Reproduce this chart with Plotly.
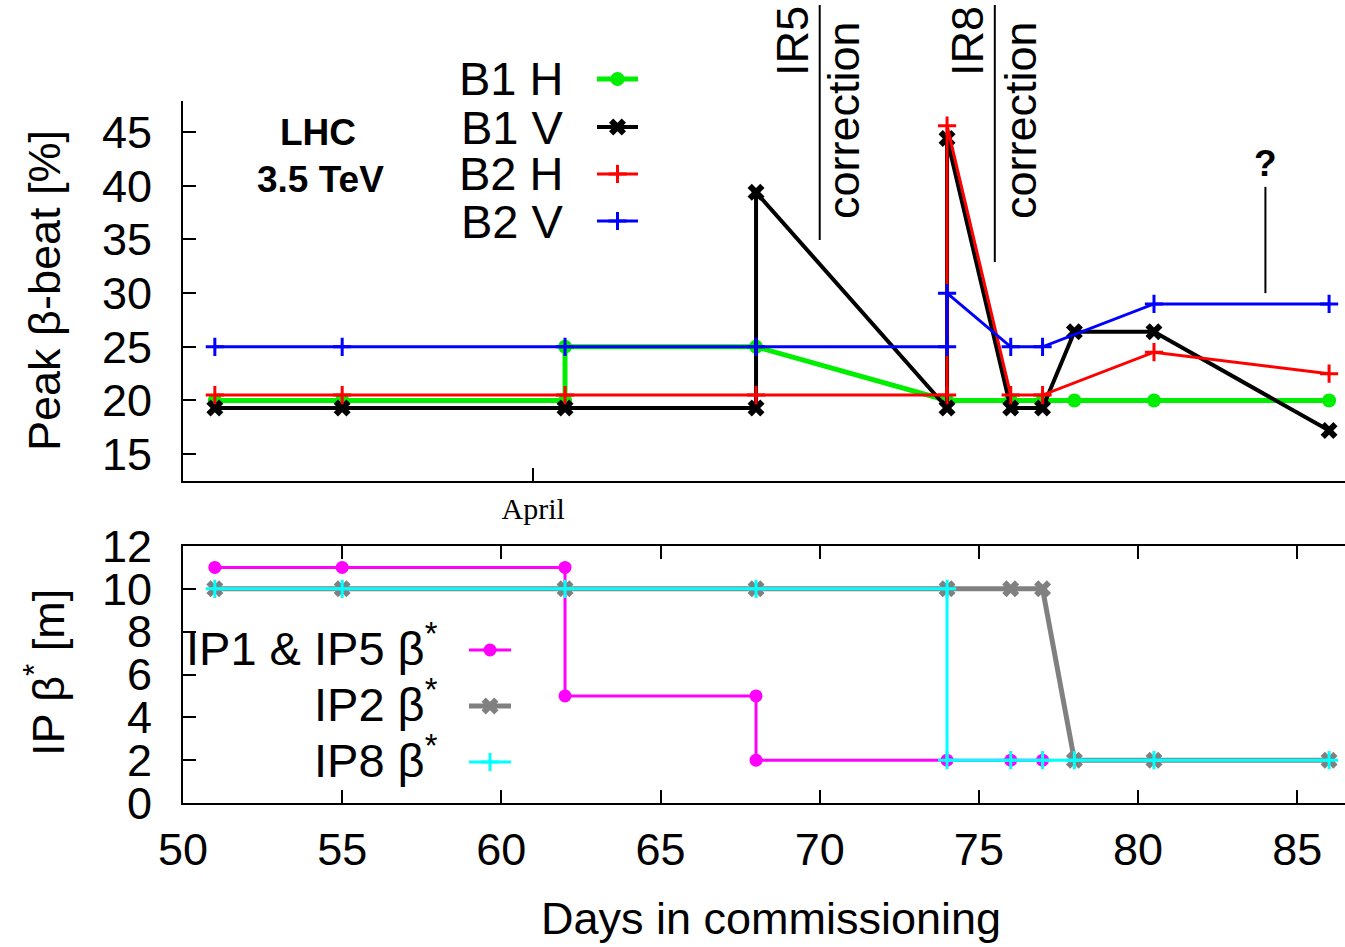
import plotly.graph_objects as go

W, H = 1345, 947

# ---------------- data ----------------
days_b1h = [51, 55, 62, 62, 68, 74, 76, 77, 78, 80.5, 86]
b1h = [20, 20, 20, 25, 25, 20, 20, 20, 20, 20, 20]
days_b1v = [51, 55, 62, 68, 68, 74, 74, 76, 77, 78, 80.5, 86]
b1v = [19.3, 19.3, 19.3, 19.3, 39.4, 19.3, 44.4, 19.3, 19.3, 26.4, 26.4, 17.2]
days_b2h = [51, 55, 62, 68, 74, 74, 76, 77, 80.5, 86]
b2h = [20.5, 20.5, 20.5, 20.5, 20.5, 45.6, 20.5, 20.5, 24.5, 22.5]
days_b2v = [51, 55, 62, 68, 74, 74, 76, 77, 80.5, 86]
b2v = [25, 25, 25, 25, 25, 30, 25, 25, 29, 29]

days_ip15 = [51, 55, 62, 62, 68, 68, 74, 76, 77]
ip15 = [11, 11, 11, 5, 5, 2, 2, 2, 2]
days_ip2 = [51, 55, 62, 68, 74, 76, 77, 78, 80.5, 86]
ip2 = [10, 10, 10, 10, 10, 10, 10, 2, 2, 2]
days_ip8 = [51, 55, 62, 68, 74, 74, 76, 77, 78, 80.5, 86]
ip8 = [10, 10, 10, 10, 10, 2, 2, 2, 2, 2, 2]

top_yticks = [15, 20, 25, 30, 35, 40, 45]
bot_yticks = [0, 2, 4, 6, 8, 10, 12]
x_ticks = [50, 55, 60, 65, 70, 75, 80, 85]
month_tick = [61]
month_label = ["April"]

corrections = [70, 75.5]          # days of IR5 / IR8 corrections
correction_labels = ["IR5", "IR8"]
question_day = 84

FONT = "Liberation Sans"
FS = 45
LEG_FS = 47


def px(xp):
    return xp / W


def py(yp):
    return 1 - yp / H


def note(text, xp, yp, size=FS, angle=0, xref="paper", xval=None, xanchor="center"):
    fig.add_annotation(text=text, x=(px(xp) if xval is None else xval), y=py(yp),
                       xref=xref, yref="paper", xanchor=xanchor, yanchor="middle",
                       textangle=angle, showarrow=False,
                       font=dict(family=FONT, size=size, color="black"))


fig = go.Figure()

# ---------------- top panel ----------------
top_series = [
    ("B1 H", days_b1h, b1h, "#00ee00", 5, "circle", 14, 0),
    ("B1 V", days_b1v, b1v, "black", 4, "x", 15, 0),
    ("B2 H", days_b2h, b2h, "red", 3, "cross-thin", 13, 3),
    ("B2 V", days_b2v, b2v, "blue", 3, "cross-thin", 13, 3),
]
for name, xs, ys, col, lw, sym, ms, mlw in top_series:
    fig.add_trace(go.Scatter(
        x=xs, y=ys, mode="lines+markers", name=name, showlegend=False,
        line=dict(color=col, width=lw),
        marker=dict(symbol=sym, size=ms, color=col, line=dict(color=col, width=mlw)),
        xaxis="x", yaxis="y", cliponaxis=False))

# ---------------- bottom panel ----------------
bot_series = [
    ("IP1 & IP5 β<sup>*</sup>", days_ip15, ip15, "magenta", 3, "circle", 13, 0),
    ("IP2 β<sup>*</sup>", days_ip2, ip2, "gray", 5, "x", 15, 0),
    ("IP8 β<sup>*</sup>", days_ip8, ip8, "cyan", 3, "cross-thin", 13, 3),
]
for name, xs, ys, col, lw, sym, ms, mlw in bot_series:
    fig.add_trace(go.Scatter(
        x=xs, y=ys, mode="lines+markers", name=name, showlegend=False,
        line=dict(color=col, width=lw),
        marker=dict(symbol=sym, size=ms, color=col, line=dict(color=col, width=mlw)),
        xaxis="x2", yaxis="y2", cliponaxis=False))

# ---------------- custom legends (pixel overlay axis) ----------------
top_leg_rows = [79, 127, 174, 221]
for (name, xs, ys, col, lw, sym, ms, mlw), yr in zip(top_series, top_leg_rows):
    fig.add_trace(go.Scatter(
        x=[597, 617.5, 638], y=[yr, yr, yr], mode="lines+markers", showlegend=False,
        line=dict(color=col, width=lw),
        marker=dict(symbol=sym, size=ms, color=col, opacity=[0, 1, 0],
                    line=dict(color=col, width=mlw)),
        xaxis="x3", yaxis="y3", hoverinfo="skip"))
    note(name, 566, yr, size=LEG_FS, xanchor="right")

bot_leg_rows = [650, 706, 762]
for (name, xs, ys, col, lw, sym, ms, mlw), yr in zip(bot_series, bot_leg_rows):
    fig.add_trace(go.Scatter(
        x=[469, 490, 511], y=[yr, yr, yr], mode="lines+markers", showlegend=False,
        line=dict(color=col, width=lw),
        marker=dict(symbol=sym, size=ms, color=col, opacity=[0, 1, 0],
                    line=dict(color=col, width=mlw)),
        xaxis="x3", yaxis="y3", hoverinfo="skip"))
    note(name, 440, yr - 5, size=LEG_FS, xanchor="right")

# ---------------- annotations ----------------
note("<b>LHC</b>", 318, 132, size=37)
note("<b>3.5 TeV</b>", 320, 180, size=37)

# correction fractions
ir_label_px = [(793, 41, 843, 120, 5, 240), (968, 41, 1020, 120, 5, 262)]
for day, lab, (lx, ly, cx, cy, y0p, y1p) in zip(corrections, correction_labels, ir_label_px):
    fig.add_shape(type="line", xref="x", yref="paper", x0=day, x1=day,
                  y0=py(y1p), y1=py(y0p), line=dict(color="black", width=2))
    note(lab, lx, ly, angle=-90)
    note("correction", cx, cy, angle=-90)

# question mark
fig.add_shape(type="line", xref="x", yref="y", x0=question_day, x1=question_day,
              y0=30, y1=39.9, line=dict(color="black", width=2))
note("<b>?</b>", 0, 163, size=37, xref="x", xval=question_day)

# axis titles
note("Peak β-beat [%]", 45, 291, angle=-90)
note("IP β<sup>*</sup> [m]", 45, 672, angle=-90)
note("Days in commissioning", 771, 918)

xdom = [px(183), 1.0]
xrange = [50, 86.5]
axis_common = dict(showgrid=False, zeroline=False, showline=True, linecolor="black",
                   linewidth=2, ticks="inside", tickcolor="black", tickwidth=2, ticklen=13,
                   automargin=False,
                   tickfont=dict(family=FONT, size=FS, color="black"))

fig.update_layout(
    width=W, height=H,
    margin=dict(l=0, r=0, t=0, b=0, pad=0, autoexpand=False),
    paper_bgcolor="white", plot_bgcolor="rgba(0,0,0,0)",
    showlegend=False,
    xaxis=dict(**{**axis_common, "tickfont": dict(family="Liberation Serif", size=30, color="black")},
               domain=xdom, range=xrange, anchor="y", tickvals=month_tick, ticktext=month_label,
               ticklabelstandoff=0),
    yaxis=dict(**axis_common, domain=[py(481), py(101)], range=[12.5, 47.9], anchor="x",
               tickvals=top_yticks, ticklabelstandoff=20),
    xaxis2=dict(**axis_common, domain=xdom, range=xrange, anchor="y2", tickvals=x_ticks,
                mirror="ticks", ticklabelstandoff=6),
    yaxis2=dict(**axis_common, domain=[py(803), py(546)], range=[0, 12], anchor="x2",
                tickvals=bot_yticks, mirror=True, ticklabelstandoff=20),
    xaxis3=dict(domain=[0, 1], range=[0, W], visible=False, anchor="y3", automargin=False),
    yaxis3=dict(domain=[0, 1], range=[H, 0], visible=False, anchor="x3", automargin=False),
)

fig.write_html("out.html")
